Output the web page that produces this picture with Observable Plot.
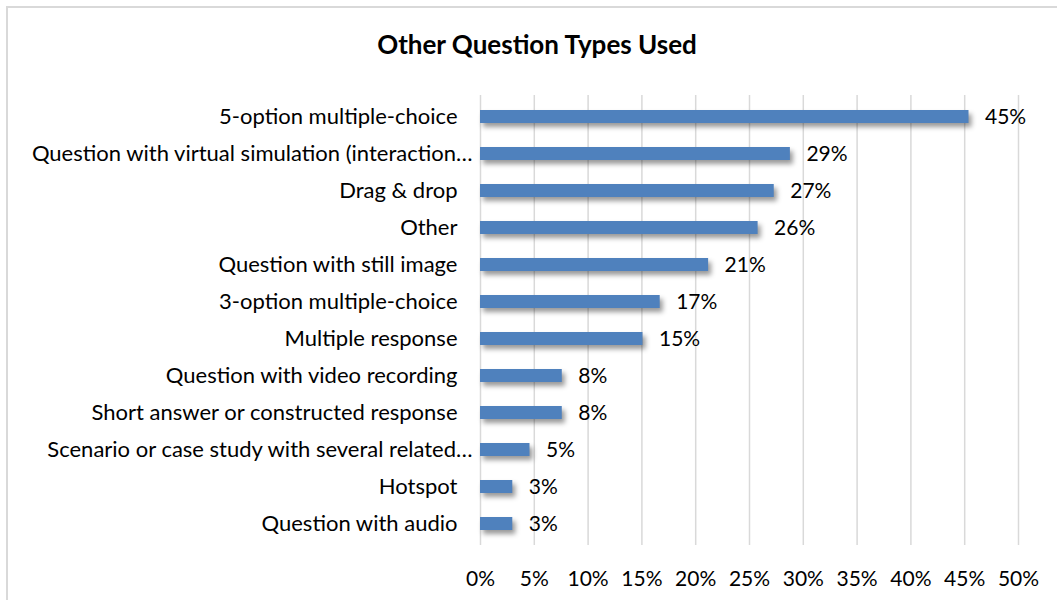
<!DOCTYPE html>
<html>
<head>
<meta charset="utf-8">
<script src="https://cdn.jsdelivr.net/npm/d3@7"></script>
<script src="https://cdn.jsdelivr.net/npm/@observablehq/plot@0.6"></script>
<style>
  html, body { margin: 0; padding: 0; background: #fff; }
  #wrap { position: relative; width: 1057px; height: 600px; overflow: hidden; font-family: Lato, "Open Sans", sans-serif; }
  #frame { position: absolute; left: 6px; top: 6px; width: 1100px; height: 700px; border: 2px solid #d9d9d9; box-sizing: border-box; }
  #title { position: absolute; left: 0; top: 28px; width: 1074px; text-align: center; font-size: 26px; font-weight: 700; color: #000; line-height: 32px; }
  #chart { position: absolute; left: 0; top: 85px; }
</style>
</head>
<body>
<div id="wrap">
  <div id="frame"></div>
  <div id="title">Other Question Types Used</div>
  <div id="chart"></div>
</div>
<script>
const categories = [
  "5-option multiple-choice",
  "Question with virtual simulation (interaction…",
  "Drag & drop",
  "Other",
  "Question with still image",
  "3-option multiple-choice",
  "Multiple response",
  "Question with video recording",
  "Short answer or constructed response",
  "Scenario or case study with several related…",
  "Hotspot",
  "Question with audio"
];
const values = [0.454, 0.288, 0.273, 0.258, 0.212, 0.167, 0.151, 0.076, 0.076, 0.046, 0.030, 0.030];
const xTicks = [0, 0.05, 0.10, 0.15, 0.20, 0.25, 0.30, 0.35, 0.40, 0.45, 0.50];

const data = categories.map((c, i) => ({category: c, value: values[i]}));
const fmt = d3.format(".0%");
const truncated = d => d.category.endsWith("…");

const chart = Plot.plot({
  width: 1057,
  height: 515,
  marginLeft: 480,
  marginRight: 39,
  marginTop: 10,
  marginBottom: 55,
  style: {fontFamily: "Lato, 'Open Sans', sans-serif", fontSize: "21px", color: "#000", background: "transparent"},
  x: {domain: [0, 0.5], ticks: xTicks, tickFormat: fmt, label: null},
  y: {domain: categories, paddingInner: 0.65, paddingOuter: 0.325, label: null, axis: null},
  marks: [
    Plot.ruleX(xTicks, {stroke: "#d9d9d9", strokeWidth: 1.5}),
    Plot.barX(data, {x: "value", y: "category", fill: "#4f81bd"}),
    Plot.text(data, {x: "value", y: "category", text: d => fmt(d.value), textAnchor: "start", dx: 16, fontSize: 21, fill: "#000"}),
    Plot.text(data, {filter: d => !truncated(d), x: () => 0, y: "category", text: "category", textAnchor: "end", dx: -23, fontSize: 22, fill: "#000"}),
    Plot.text(data, {filter: truncated, x: () => 0, y: "category", text: "category", textAnchor: "end", dx: -8, fontSize: 22, fill: "#000"}),
    Plot.axisX({ticks: xTicks, tickFormat: fmt, tickSize: 0, tickPadding: 26, fontSize: 21, label: null})
  ]
});
document.getElementById("chart").appendChild(chart);
d3.select(chart).selectAll("g[aria-label='bar']").style("filter", "drop-shadow(3px 4px 2.5px rgba(0,0,0,0.4))");
</script>
</body>
</html>
